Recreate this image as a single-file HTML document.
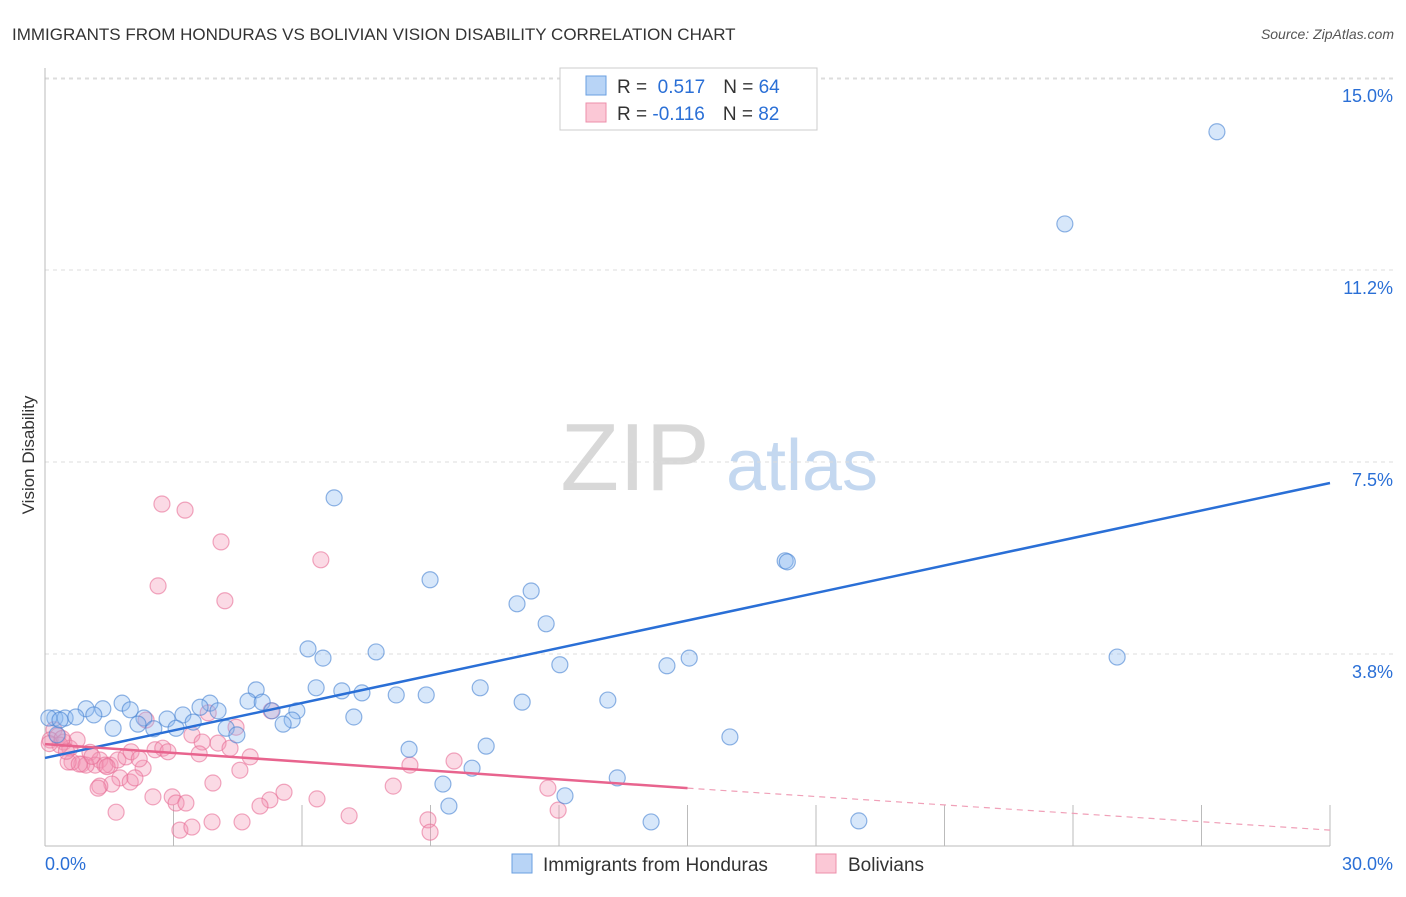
<!DOCTYPE html>
<html><head><meta charset="utf-8"><style>
body{margin:0;background:#fff;font-family:"Liberation Sans",sans-serif}
svg text{font-family:"Liberation Sans",sans-serif}
</style></head><body>
<svg id="chart" width="1406" height="892" xmlns="http://www.w3.org/2000/svg">
<text x="12" y="40" font-size="17" fill="#333">IMMIGRANTS FROM HONDURAS VS BOLIVIAN VISION DISABILITY CORRELATION CHART</text>
<text x="1394" y="39" font-size="14" font-style="italic" fill="#555" text-anchor="end">Source: ZipAtlas.com</text>
<text transform="translate(34,455) rotate(-90)" font-size="17" fill="#333" text-anchor="middle">Vision Disability</text>
<g>
<text x="635" y="490" font-size="96" font-family="Liberation Serif" fill="#d8d8d8" text-anchor="middle">ZIP</text>
<text x="802" y="490" font-size="72" fill="#c4d8f0" text-anchor="middle">atlas</text>
</g>
<g id="grid"></g><g id="axes"></g>
<g id="pink"></g><g id="blue"></g><g id="lines"></g>
<g>
<rect x="560" y="68" width="257" height="62" fill="#fff" stroke="#ccc"/>
<rect x="586" y="76" width="20" height="19" fill="#b8d4f6" stroke="#6a9fe0"/>
<rect x="586" y="103" width="20" height="19" fill="#fbc8d6" stroke="#ec8fab"/>
<text x="617" y="93" font-size="19" fill="#333">R = <tspan fill="#2a6fd6">&#160;0.517</tspan><tspan dx="18">N = </tspan><tspan fill="#2a6fd6">64</tspan></text>
<text x="617" y="120" font-size="19" fill="#333">R = <tspan fill="#2a6fd6">-0.116</tspan><tspan dx="18">N = </tspan><tspan fill="#2a6fd6">82</tspan></text>
</g>
<g>
<rect x="512" y="854" width="20" height="19" fill="#b8d4f6" stroke="#6a9fe0"/>
<text x="543" y="871" font-size="19" fill="#333">Immigrants from Honduras</text>
<rect x="816" y="854" width="20" height="19" fill="#fbc8d6" stroke="#ec8fab"/>
<text x="848" y="871" font-size="19" fill="#333">Bolivians</text>
</g>
</svg>
<script>
const yTicks=[3.75,7.5,11.25,15];
const yTickLabels=["3.8%","7.5%","11.2%","15.0%"];
const xTicks=[3,6,9,12,15,18,21,24,27,30];
const xTickLabels=["0.0%","30.0%"];
const blueX=[27.36,23.81,6.75,17.28,17.33,8.99,11.35,11.02,11.70,6.14,7.73,6.49,15.04,25.03,14.52,12.02,6.33,6.93,7.40,4.93,10.16,8.20,8.90,4.74,5.07,11.14,13.14,3.85,3.62,1.80,1.35,0.96,1.99,4.04,5.88,5.30,3.22,1.14,0.23,0.47,0.72,0.09,0.35,2.85,7.21,2.31,3.46,5.77,5.56,1.59,2.17,2.54,3.06,4.23,4.48,15.99,10.30,8.50,9.97,13.36,9.29,12.14,9.43,14.15,19.00,0.28];
const blueY=[13.95,12.15,6.80,5.57,5.55,5.20,4.98,4.73,4.34,3.85,3.79,3.67,3.67,3.69,3.52,3.54,3.09,3.03,2.99,3.05,3.09,2.95,2.95,2.83,2.81,2.81,2.85,2.79,2.71,2.79,2.68,2.68,2.66,2.64,2.64,2.64,2.56,2.56,2.50,2.50,2.52,2.50,2.46,2.48,2.52,2.50,2.42,2.46,2.38,2.30,2.38,2.29,2.30,2.30,2.17,2.13,1.95,1.89,1.52,1.33,1.21,0.98,0.78,0.47,0.49,2.17];
const pinkX=[2.73,3.27,4.11,6.44,2.64,4.20,5.28,2.36,4.46,3.81,0.21,0.30,0.44,0.12,0.58,0.75,0.35,1.05,1.28,1.52,0.86,0.63,1.70,1.17,0.96,1.40,0.54,1.89,2.01,2.57,2.75,2.87,3.43,3.67,4.04,4.32,4.79,4.55,2.29,1.75,1.99,2.10,1.56,1.28,1.24,3.92,5.58,5.25,5.02,6.35,2.52,2.97,3.06,3.29,1.66,3.15,3.43,3.90,4.60,7.10,8.13,8.52,9.55,8.94,8.99,11.74,11.98,0.10,0.50,1.10,1.45,2.20,0.80,3.60,0.40];
const pinkY=[6.68,6.56,5.94,5.59,5.08,4.79,2.64,2.46,2.32,2.60,2.27,2.15,2.03,2.07,1.91,2.07,1.97,1.83,1.68,1.58,1.60,1.64,1.68,1.58,1.58,1.58,1.64,1.74,1.84,1.88,1.91,1.84,2.17,2.03,2.01,1.91,1.74,1.48,1.52,1.33,1.25,1.33,1.21,1.17,1.13,1.23,1.05,0.90,0.78,0.92,0.96,0.96,0.84,0.84,0.66,0.31,0.37,0.47,0.47,0.59,1.17,1.58,1.66,0.51,0.27,1.13,0.70,2.00,1.85,1.75,1.55,1.70,1.60,1.80,2.10];
const blueLine=[[0,1.72],[30,7.09]];
const pinkLine=[[0,1.99],[15,1.13],[30,0.31]];
const X0=45,X1=1330,Y0=846,PY=51.2;
const sx=v=>X0+(X1-X0)*v/30, sy=v=>Y0-v*PY;
const NS="http://www.w3.org/2000/svg";
function mk(t,a,p){const e=document.createElementNS(NS,t);for(const k in a)e.setAttribute(k,a[k]);p.appendChild(e);return e;}
const grid=document.getElementById('grid'),axes=document.getElementById('axes');
mk('line',{x1:X0,x2:1395,y1:79,y2:79,stroke:'#ddd','stroke-dasharray':'4,4'},grid);
yTicks.forEach((v,i)=>{
 const l=mk('line',{x1:X0,x2:1395,y1:sy(v),y2:sy(v),stroke:'#ddd','stroke-dasharray':'4,4'},grid);
 
 
 const t=mk('text',{x:1393,y:sy(v)+24,'font-size':18,fill:'#2a6fd6','text-anchor':'end'},axes);
 t.textContent=yTickLabels[i];
 
 
});
mk('line',{x1:X0,x2:X0,y1:68,y2:846,stroke:'#bbb'},axes);
mk('line',{x1:X0,x2:X1,y1:846,y2:846,stroke:'#bbb'},axes);
xTicks.forEach(v=>{const l=mk('line',{x1:sx(v),x2:sx(v),y1:805,y2:846,stroke:'#bbb'},axes);
 
 });
[[0,'start',45],[30,'end',1393]].forEach((d,i)=>{const t=mk('text',{x:d[2],y:870,'font-size':18,fill:'#2a6fd6','text-anchor':d[1]},axes);t.textContent=xTickLabels[i];
 
 });
const pg=document.getElementById('pink'),bg=document.getElementById('blue');
pinkX.forEach((x,i)=>{const c=mk('circle',{cx:sx(x),cy:sy(pinkY[i]),r:8,fill:'rgba(244,150,180,0.35)',stroke:'rgba(232,110,150,0.6)','stroke-width':1.2},pg);
 
 });
blueX.forEach((x,i)=>{const c=mk('circle',{cx:sx(x),cy:sy(blueY[i]),r:8,fill:'rgba(140,185,240,0.35)',stroke:'rgba(70,130,210,0.6)','stroke-width':1.2},bg);
 
 });
const lg=document.getElementById('lines');
const bl=mk('line',{x1:sx(blueLine[0][0]),y1:sy(blueLine[0][1]),x2:sx(blueLine[1][0]),y2:sy(blueLine[1][1]),stroke:'#2a6fd6','stroke-width':2.5},lg);


const pl=mk('line',{x1:sx(pinkLine[0][0]),y1:sy(pinkLine[0][1]),x2:sx(pinkLine[1][0]),y2:sy(pinkLine[1][1]),stroke:'#e8648e','stroke-width':2.5},lg);


const pd=mk('line',{x1:sx(pinkLine[1][0]),y1:sy(pinkLine[1][1]),x2:sx(pinkLine[2][0]),y2:sy(pinkLine[2][1]),stroke:'#f0a0b8','stroke-width':1.2,'stroke-dasharray':'6,5'},lg);


</script>
</body></html>
